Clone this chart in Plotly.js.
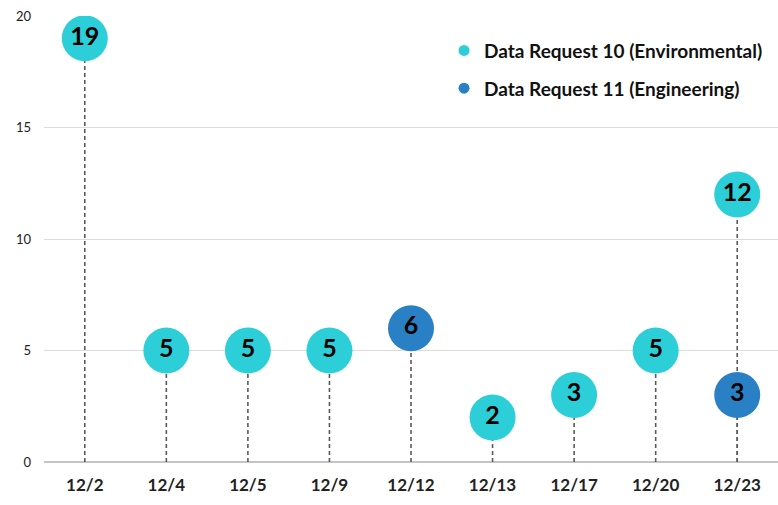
<!DOCTYPE html>
<html>
<head>
<meta charset="utf-8">
<script src="https://cdn.plot.ly/plotly-3.0.1.min.js"></script>
<style>html,body{margin:0;padding:0;background:#fff}#chart{width:778px;height:505px}</style>
</head>
<body>
<div id="chart"></div>
<script>
const categories = ["12/2","12/4","12/5","12/9","12/12","12/13","12/17","12/20","12/23"];
const envDates = ["12/2","12/4","12/5","12/9","12/13","12/17","12/20","12/23"];
const envValues = [19,5,5,5,2,3,5,12];
const engDates = ["12/12","12/23"];
const engValues = [6,3];
const seriesNames = ["Data Request 10 (Environmental)","Data Request 11 (Engineering)"];
const colors = ["#2CCFD7","#2A80C5"];

function stems(xs, ys){
  const sx=[], sy=[];
  xs.forEach((x,i)=>{ sx.push(x,x,null); sy.push(0,ys[i],null); });
  return {x:sx,y:sy};
}
const s1 = stems(envDates, envValues), s2 = stems(engDates, engValues);
const stemStyle = {type:'scatter',mode:'lines',line:{color:'#5a5a5a',width:1.6,dash:'4px,3px'},showlegend:false,hoverinfo:'skip'};
const bubbleFont = {family:'Lato, "Liberation Sans", sans-serif',size:25,color:'#000',weight:'bold'};

const data = [
  Object.assign({x:s1.x,y:s1.y},stemStyle),
  Object.assign({x:s2.x,y:s2.y},stemStyle),
  {type:'scatter',mode:'markers+text',x:envDates,y:envValues,text:envValues.map(String),textposition:'middle center',
   textfont:bubbleFont,marker:{size:46,color:colors[0]},showlegend:false,hoverinfo:'skip'},
  {type:'scatter',mode:'markers+text',x:engDates,y:engValues,text:engValues.map(String),textposition:'middle center',
   textfont:bubbleFont,marker:{size:46,color:colors[1]},showlegend:false,hoverinfo:'skip'},
  {type:'scatter',mode:'markers',x:[null],y:[null],name:seriesNames[0],marker:{size:11,color:colors[0]},legendgroup:'a'},
  {type:'scatter',mode:'markers',x:[null],y:[null],name:seriesNames[1],marker:{size:11,color:colors[1]},legendgroup:'b'}
];

const layout = {
  width:778,height:505,
  margin:{l:44,r:0,t:16,b:43},
  paper_bgcolor:'#fff',plot_bgcolor:'#fff',
  font:{family:'Lato, "Liberation Sans", sans-serif',color:'#222'},
  xaxis:{type:'category',categoryorder:'array',categoryarray:categories,range:[-0.5,8.5],
    showgrid:false,zeroline:false,showline:false,ticks:'',
    tickfont:{size:17,color:'#222',weight:'bold'},ticklabelstandoff:11,fixedrange:true},
  yaxis:{range:[0,20],tickvals:[0,5,10,15,20],showgrid:true,gridcolor:'#dcdcdc',gridwidth:1,
    zeroline:true,zerolinecolor:'#c4c4c4',zerolinewidth:2,showline:false,ticks:'',
    tickfont:{size:13,color:'#222'},ticklabelstandoff:12,fixedrange:true},
  legend:{x:0.545,y:0.965,xanchor:'left',yanchor:'top',bgcolor:'rgba(0,0,0,0)',
    font:{size:19,color:'#111',weight:'bold'},traceorder:'grouped',tracegroupgap:10},
  showlegend:true
};
Plotly.newPlot('chart',data,layout,{displayModeBar:false,staticPlot:true});
</script>
</body>
</html>
